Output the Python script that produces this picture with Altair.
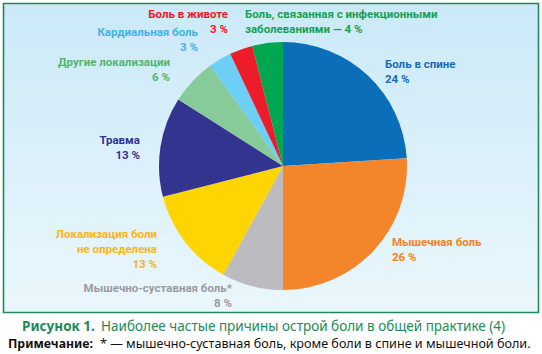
import altair as alt
import pandas as pd

# ---- data ----
categories = ["Боль в спине", "Мышечная боль", "Мышечно-суставная боль*",
              "Локализация боли не определена", "Травма", "Другие локализации",
              "Кардиальная боль", "Боль в животе",
              "Боль, связанная с инфекционными заболеваниями"]
values = [24, 26, 8, 13, 13, 6, 3, 3, 4]
slice_colors = ["#0a6fb8", "#f3852a", "#bcbcc0", "#fed500", "#33348f",
                "#88cb9b", "#6dcff5", "#ed1c2a", "#00a650"]

# label text lines (same order as categories)
label_lines = [
    ["Боль в спине", "24 %"],
    ["Мышечная боль", "26 %"],
    ["Мышечно-суставная боль*", "8 %"],
    ["Локализация боли", "не определена", "13 %"],
    ["Травма", "13 %"],
    ["Другие локализации", "6 %"],
    ["Кардиальная боль", "3 %"],
    ["Боль в животе", "3 %"],
    ["Боль, связанная с инфекционными", "заболеваниями — 4 %"],
]
label_colors = ["#1a6bb5", "#f58220", "#9a9a9e", "#fbb615", "#33348f",
                "#52b56f", "#3fb3e6", "#ed1c24", "#1aa050"]

# label layout (annotation anchors, pixels) – layout, not data
label_layout = [
    (385, 65, "left"), (392, 243, "left"), (232, 289, "right"),
    (157, 235, "right"), (140, 141, "right"), (170, 63, "right"),
    (198, 33, "right"), (228, 15, "right"), (245, 15, "left"),
]

W, H = 542, 354
CX, CY, R = 283, 166, 124

df = pd.DataFrame({"cat": categories, "val": values,
                   "order": list(range(len(values)))})

frame = alt.Chart(pd.DataFrame({"a": [0]})).mark_rect(
    fill=alt.Gradient(gradient="linear",
                      stops=[alt.GradientStop(color="#cbe9f8", offset=0),
                             alt.GradientStop(color="#eaf7fc", offset=1)],
                      x1=0, x2=0, y1=0, y2=1),
    stroke="#1e8a5a", strokeWidth=1.6
).encode(x=alt.value(3.5), x2=alt.value(538.5), y=alt.value(3.5), y2=alt.value(312.5))

pie = alt.Chart(df).mark_arc(radius=R, stroke=None).encode(
    theta=alt.Theta("val:Q", stack=True),
    order=alt.Order("order:Q"),
    color=alt.Color("cat:N", scale=alt.Scale(domain=categories, range=slice_colors),
                    legend=None),
    x=alt.value(CX), y=alt.value(CY),
)

layers = [frame, pie]
LFONT = "Roboto"
FONT = "Noto Sans"
line_h = 15
for lines, col, (lx, ly, al) in zip(label_lines, label_colors, label_layout):
    for i, t in enumerate(lines):
        layers.append(
            alt.Chart(pd.DataFrame({"t": [t]})).mark_text(
                font=LFONT, fontSize=11.5, fontWeight="bold", color=col,
                align=al, baseline="middle"
            ).encode(text="t:N", x=alt.value(lx), y=alt.value(ly + i * line_h))
        )

cap_bold = alt.Chart(pd.DataFrame({"t": ["Рисунок 1."]})).mark_text(
    font=FONT, fontSize=13.5, fontWeight="bold", color="#1e8a5a",
    align="left", baseline="middle"
).encode(text="t:N", x=alt.value(22), y=alt.value(327))
cap_norm = alt.Chart(pd.DataFrame({"t": ["Наиболее частые причины острой боли в общей практике (4)"]})).mark_text(
    font=FONT, fontSize=13.5, fontWeight="normal", color="#1e8a5a",
    align="left", baseline="middle"
).encode(text="t:N", x=alt.value(101), y=alt.value(327))
note_bold = alt.Chart(pd.DataFrame({"t": ["Примечание:"]})).mark_text(
    font=FONT, fontSize=12.3, fontWeight="bold", color="#111111",
    align="left", baseline="middle"
).encode(text="t:N", x=alt.value(8), y=alt.value(344))
note_norm = alt.Chart(pd.DataFrame({"t": ["* — мышечно-суставная боль, кроме боли в спине и мышечной боли."]})).mark_text(
    font=FONT, fontSize=12.6, fontWeight="normal", color="#111111",
    align="left", baseline="middle"
).encode(text="t:N", x=alt.value(100), y=alt.value(344))

layers += [cap_bold, cap_norm, note_bold, note_norm]

chart = alt.layer(*layers).properties(
    width=W, height=H, padding=0,
    autosize=alt.AutoSizeParams(type="none"),
    background="white",
).configure_view(stroke=None)

chart.save("out.html", embed_options={"renderer": "svg", "actions": False})
